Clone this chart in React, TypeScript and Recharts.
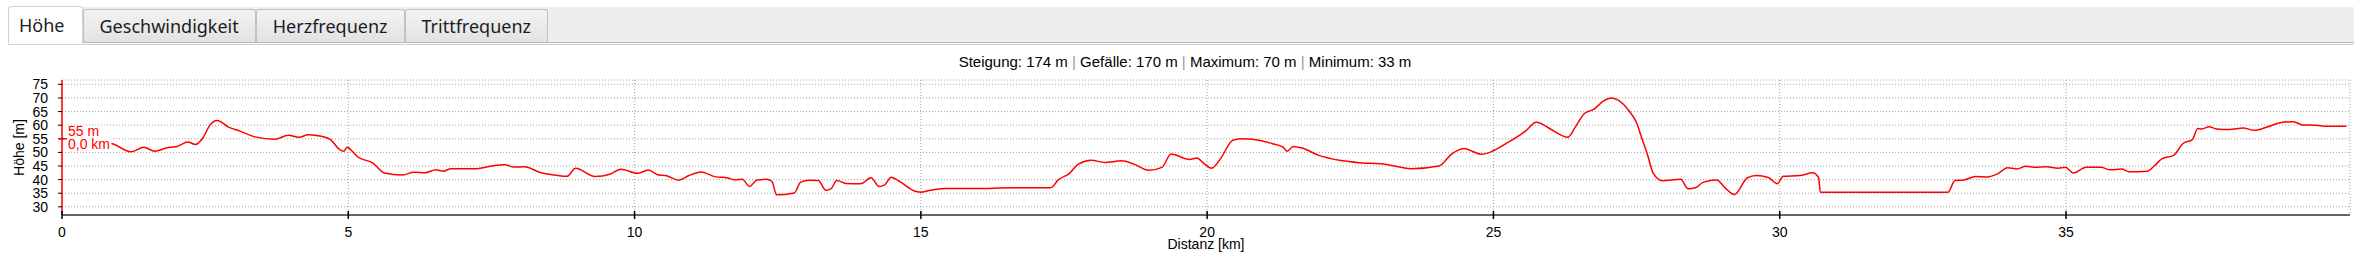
import {
  CartesianGrid,
  Line,
  LineChart,
  ReferenceDot,
  ReferenceLine,
  XAxis,
  YAxis
} from "recharts";

const distanceKm = [
  0, 0.45, 0.88, 1.2, 1.43, 1.62, 1.82, 2.01, 2.2, 2.33, 2.46, 2.59, 2.71, 2.91, 3.11, 3.37, 3.72,
  3.95, 4.14, 4.3, 4.53, 4.69, 4.85, 4.92, 4.98, 5.08, 5.17, 5.43, 5.63, 5.95, 6.14, 6.34, 6.53,
  6.66, 6.79, 7.24, 7.5, 7.73, 7.89, 8.08, 8.34, 8.66, 8.82, 8.97, 9.31, 9.57, 9.76, 10.05, 10.24,
  10.4, 10.56, 10.77, 10.95, 11.16, 11.4, 11.63, 11.75, 11.88, 12.01, 12.14, 12.3, 12.4, 12.48,
  12.79, 12.9, 13.05, 13.21, 13.34, 13.43, 13.53, 13.69, 13.95, 14.13, 14.27, 14.37, 14.48, 14.63,
  14.92, 15.01, 15.17, 15.43, 15.95, 16.59, 17.27, 17.4, 17.59, 17.75, 17.98, 18.21, 18.5, 18.72,
  18.98, 19.21, 19.37, 19.69, 19.82, 19.94, 20.08, 20.24, 20.45, 20.63, 20.95, 21.14, 21.32, 21.4,
  21.5, 21.66, 21.95, 22.34, 22.66, 23.08, 23.27, 23.56, 24.05, 24.27, 24.5, 24.63, 24.79, 24.98,
  25.24, 25.56, 25.75, 26.01, 26.3, 26.43, 26.59, 26.75, 26.92, 27.05, 27.17, 27.37, 27.5, 27.59,
  27.69, 27.79, 27.95, 28.27, 28.4, 28.53, 28.66, 28.9, 29.05, 29.21, 29.43, 29.59, 29.8, 29.96,
  30.06, 30.35, 30.58, 30.68, 30.71, 31.33, 32.31, 32.94, 33.06, 33.22, 33.42, 33.62, 33.81, 33.98,
  34.14, 34.3, 34.46, 34.66, 34.86, 34.99, 35.13, 35.35, 35.61, 35.77, 35.97, 36.1, 36.42, 36.55,
  36.68, 36.88, 37.04, 37.21, 37.3, 37.37, 37.5, 37.63, 37.86, 38.09, 38.29, 38.51, 38.74, 38.97,
  39.13, 39.36, 39.56, 39.8, 39.9
];

const elevationM = [
  55, 54.2, 53.2, 50.2, 51.9, 50.4, 51.6, 52.2, 53.8, 52.9, 55.3, 60.2, 61.7, 59.3, 57.8, 55.7, 54.8,
  56.3, 55.6, 56.5, 55.9, 54.7, 51, 50.4, 51.9, 50.2, 48.3, 46.1, 42.4, 41.7, 42.7, 42.5, 43.6,
  43.1, 44, 44, 45, 45.5, 44.6, 44.7, 42.7, 41.5, 41.2, 44.2, 41.1, 42, 43.8, 42.3, 43.5,
  41.8, 41.4, 39.8, 41.5, 42.8, 41.1, 40.6, 39.9, 40.1, 37.5, 39.9, 40.1, 39.3, 34.4,
  35.1, 39.1, 39.8, 39.7, 36.1, 36.6, 39.7, 38.6, 38.5, 40.7, 37.5, 38.1, 40.9, 39.3,
  35.6, 35.4, 36.1, 36.7, 36.7, 37, 37, 39.9, 42.2, 45.7, 47.1, 46.3, 46.9, 45.7,
  43.4, 44.5, 49.4, 47.4, 47.9, 46, 44.2, 47.9, 54.5, 55, 54.3, 53.2, 52, 50.4,
  52.2, 51.6, 48.9, 47, 46.2, 45.7, 45, 44, 45, 49.4, 51.4, 50.4, 49.3, 50.4,
  53.5, 57.8, 61.1, 58.4, 55.6, 59.3, 64.3, 65.8, 68.8, 70, 69.3, 65.2, 60.9, 55.3,
  49.2, 42.4, 39.6, 40.1, 36.6, 37, 39, 39.9, 36.9, 34.5, 40.6, 41.5, 40.8, 38.5,
  41.2, 41.5, 42.5, 40.6, 35.4, 35.4, 35.4, 35.4, 39.7, 39.9, 41.1, 41, 42.2, 44.4,
  43.9, 44.9, 44.5, 44.7, 44.2, 44.5, 42.4, 44.5, 44.5, 43.6, 43.9, 42.9, 43.1, 45.2,
  47.7, 48.9, 53.2, 54.8, 58.8, 58.6, 59.4, 58.6, 58.4, 59, 58.1, 59.3, 60.9, 61.3,
  60.1, 60, 59.6, 59.6, 59.7
];

const distanceTicks = [0, 5, 10, 15, 20, 25, 30, 35];
const elevationTicks = [30, 35, 40, 45, 50, 55, 60, 65, 70, 75];

const tabLabels = ["Höhe", "Geschwindigkeit", "Herzfrequenz", "Trittfrequenz"];
const summaryItems = ["Steigung: 174 m", "Gefälle: 170 m", "Maximum: 70 m", "Minimum: 33 m"];

const cursorKm = 0;
const cursorM = 55;
const cursorLabels = ["55 m", "0,0 km"];

const FONT = '"Liberation Sans", Arial, sans-serif';
const TAB_FONT = '"Noto Sans", sans-serif';
const RED = "#ff0000";

const chartData = distanceKm.map((km, i) => ({ km, m: elevationM[i] }));

function DistanceTick({ x, y, payload }: any) {
  return (
    <g>
      <line x1={x} x2={x} y1={y - 16} y2={y - 8} stroke="#000" strokeWidth={1.5} />
      <text x={x} y={y} dy="0.71em" textAnchor="middle" fill="#000" fontSize={14} fontFamily={FONT}>
        {payload.value}
      </text>
    </g>
  );
}

function CursorMarker({ cx, cy }: any) {
  return (
    <g>
      <rect x={cx + 1.5} y={cy - 13} width={48} height={24} fill="#fff" />
      <line x1={cx - 3} x2={cx + 5} y1={cy} y2={cy} stroke={RED} strokeWidth={1.5} />
      <text x={cx + 6} y={cy - 2.5} fill={RED} fontSize={14} fontFamily={FONT}>
        {cursorLabels[0]}
      </text>
      <text x={cx + 6} y={cy + 10} fill={RED} fontSize={14} fontFamily={FONT}>
        {cursorLabels[1]}
      </text>
    </g>
  );
}

function ElevationLabel({ viewBox }: any) {
  const cx = viewBox.x + 19;
  const cy = viewBox.y + viewBox.height / 2;
  return (
    <text
      transform={`translate(${cx},${cy}) rotate(-90)`}
      textAnchor="middle"
      dy="0.36em"
      fill="#000"
      fontSize={14}
      fontFamily={FONT}
    >
      Höhe [m]
    </text>
  );
}

function Tabs() {
  return (
    <>
      <div
        style={{
          position: "absolute",
          left: 8,
          top: 7,
          width: 2346,
          height: 35,
          background: "#eeeeee",
          borderBottom: "1px solid #b8b8b8"
        }}
      />
      <div style={{ position: "absolute", left: 8, top: 44, width: 2346, height: 1, background: "#d2d2d2" }} />
      <div style={{ position: "absolute", left: 8, top: 9, display: "flex", alignItems: "flex-start" }}>
        {tabLabels.map((label, i) => {
          const active = i === 0;
          return (
            <div
              key={label}
              style={{
                boxSizing: "border-box",
                marginTop: active ? -3 : 0,
                height: active ? 38 : 33,
                lineHeight: active ? "37px" : "32px",
                padding: active ? "0 17px 0 10px" : "0 16px",
                background: active ? "#ffffff" : "linear-gradient(#f3f3f3, #e2e2e2)",
                border: `1px solid ${active ? "#d4d4d4" : "#c2c2c2"}`,
                borderBottom: "none",
                borderRadius: "3px 3px 0 0",
                fontFamily: TAB_FONT,
                fontSize: 18,
                color: "#1c1c24",
                whiteSpace: "nowrap"
              }}
            >
              {label}
            </div>
          );
        })}
      </div>
    </>
  );
}

function Summary() {
  return (
    <div
      style={{
        position: "absolute",
        left: 0,
        top: 53,
        width: 2370,
        textAlign: "center",
        fontFamily: FONT,
        fontSize: 15,
        lineHeight: "18px",
        color: "#000",
        whiteSpace: "nowrap"
      }}
    >
      {summaryItems.map((item, i) => (
        <span key={item}>
          {i > 0 && <span style={{ color: "#999" }}> | </span>}
          {item}
        </span>
      ))}
    </div>
  );
}

export default function App() {
  return (
    <div style={{ position: "relative", width: 2362, height: 268, background: "#fff", overflow: "hidden" }}>
      <style>{"body{margin:0}"}</style>
      <div style={{ position: "absolute", left: 0, top: 0 }}>
        <LineChart width={2362} height={268} data={chartData} margin={{ top: 80, right: 12, bottom: 0, left: 0 }}>
          <CartesianGrid stroke="#a0a0a0" strokeDasharray="1 2" />
          <XAxis
            dataKey="km"
            type="number"
            domain={[0, 39.96]}
            ticks={distanceTicks}
            interval={0}
            allowDataOverflow
            height={53}
            axisLine={{ stroke: "#666", strokeWidth: 2 }}
            tickLine={false}
            tickSize={0}
            tickMargin={12}
            tick={<DistanceTick />}
            label={{
              value: "Distanz [km]",
              position: "insideTop",
              offset: 24,
              fill: "#000",
              fontSize: 14,
              fontFamily: FONT
            }}
          />
          <YAxis
            type="number"
            domain={[27, 76.6]}
            ticks={elevationTicks}
            interval={0}
            allowDataOverflow
            width={62}
            axisLine={false}
            tickSize={4}
            tickMargin={10}
            tickLine={{ stroke: "#000" }}
            tick={{ fill: "#000", fontSize: 14, fontFamily: FONT }}
            label={{ content: ElevationLabel }}
          />
          <ReferenceLine x={cursorKm} stroke={RED} strokeWidth={1.5} />
          <Line
            dataKey="m"
            type="monotone"
            stroke={RED}
            strokeWidth={1.5}
            dot={false}
            activeDot={false}
            isAnimationActive={false}
          />
          <ReferenceDot x={cursorKm} y={cursorM} shape={<CursorMarker />} />
        </LineChart>
      </div>
      <Tabs />
      <Summary />
    </div>
  );
}
